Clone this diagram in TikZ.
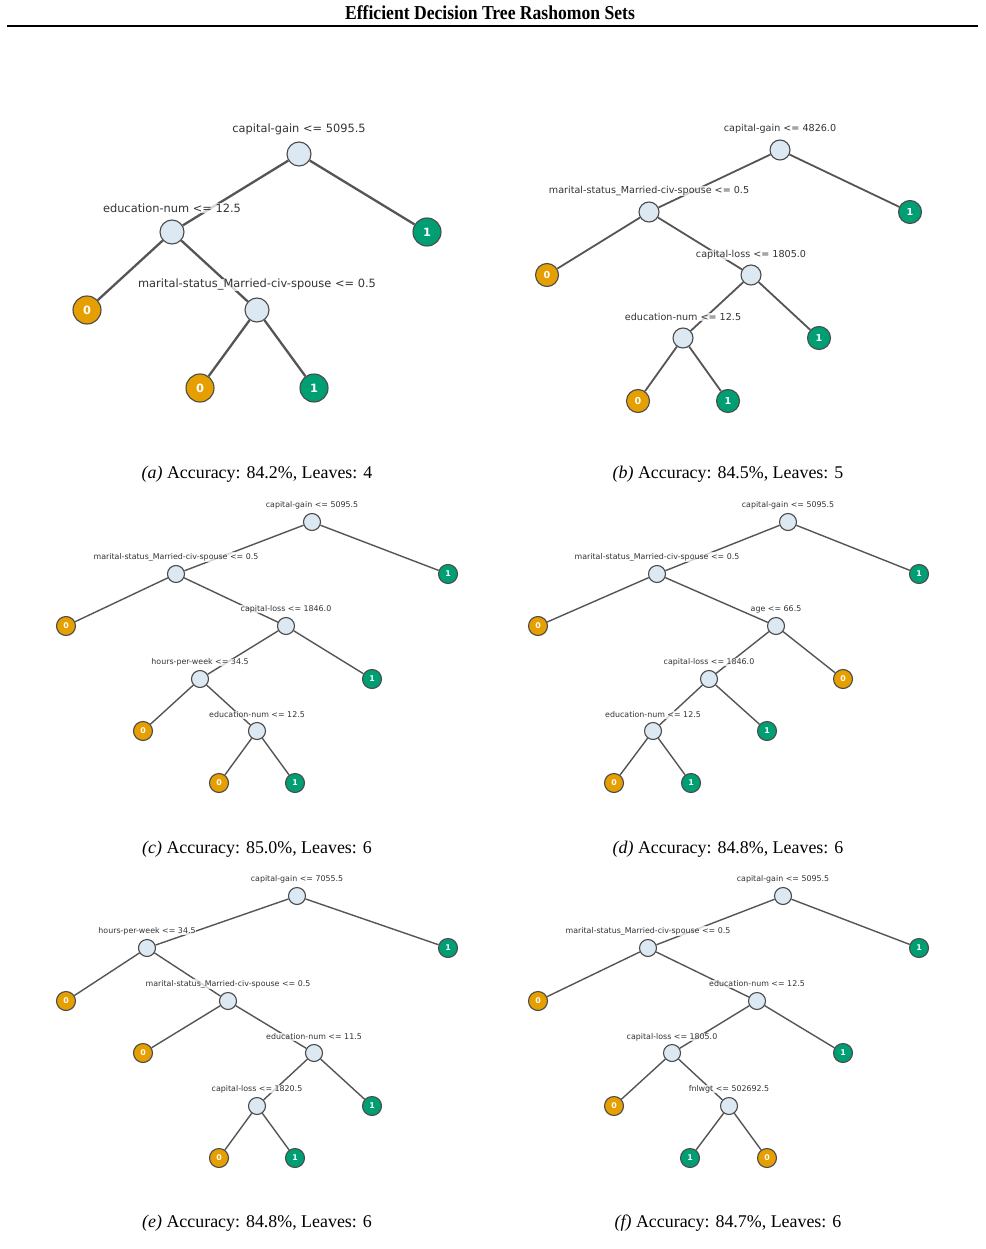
\documentclass[tikz,border=0pt]{standalone}
\usepackage{fontspec}
\setmainfont{Liberation Serif}
\newfontfamily\tf{DejaVu Sans}
\usetikzlibrary{backgrounds}
\pgfdeclarelayer{bottom}
\pgfsetlayers{bottom,background,main}
\definecolor{intc}{HTML}{DCE8F2}
\definecolor{orc}{HTML}{E69F00}
\definecolor{grc}{HTML}{009E73}
\definecolor{bordc}{HTML}{4A4A4A}
\definecolor{edgec}{HTML}{555555}
\definecolor{txtc}{HTML}{333333}
\tikzset{
  x=1pt, y=-1pt,
  inode/.style={circle, draw=bordc, fill=intc, minimum size=#1, inner sep=0pt, line width=1.1pt},
  zleaf/.style={circle, draw=bordc, fill=orc, minimum size=#1, inner sep=0pt, line width=1.1pt, text=white},
  oleaf/.style={circle, draw=bordc, fill=grc, minimum size=#1, inner sep=0pt, line width=1.1pt, text=white},
  lbl/.style={fill=white, fill opacity=0.75, text opacity=1, text=txtc, inner sep=0.6pt, yshift=-1pt},
  conn/.style={draw=edgec, line width=#1},
  subcap/.style={font=\fontsize{17.9}{20}\selectfont, inner sep=0pt, yshift=-2pt},
}
\begin{document}
\begin{tikzpicture}
\begin{pgfonlayer}{bottom}
\fill[white] (0,0) rectangle (985,1249);
\end{pgfonlayer}
\useasboundingbox (0,0) rectangle (985,1249);
% title
\node[font=\fontsize{17.6}{20}\selectfont\bfseries, inner sep=0pt, yscale=1.12] (title) at (490,13) {Efficient Decision Tree Rashomon Sets};
\coordinate (rl) at (7,26);
\coordinate (rr) at (978,26);
\draw[line width=1.8pt] (rl) -- (rr);

% ===== Tree (a)
\begin{scope}[every node/.append style={font=\tf\fontsize{11.4}{13}\selectfont}]
\node[inode=24] (a1) at (299,154) {};
\node[inode=24] (a2) at (172,232) {};
\node[oleaf=28, font=\tf\bfseries\fontsize{11.4}{13}\selectfont] (a3) at (427,232) {1};
\node[zleaf=28, font=\tf\bfseries\fontsize{11.4}{13}\selectfont] (a4) at (87,310) {0};
\node[inode=24] (a5) at (257,310) {};
\node[zleaf=28, font=\tf\bfseries\fontsize{11.4}{13}\selectfont] (a6) at (200,388) {0};
\node[oleaf=28, font=\tf\bfseries\fontsize{11.4}{13}\selectfont] (a7) at (314,388) {1};
\begin{pgfonlayer}{background}
\draw[conn=2.3pt] (a1) -- (a2); \draw[conn=2.3pt] (a1) -- (a3);
\draw[conn=2.3pt] (a2) -- (a4); \draw[conn=2.3pt] (a2) -- (a5);
\draw[conn=2.3pt] (a5) -- (a6); \draw[conn=2.3pt] (a5) -- (a7);
\end{pgfonlayer}
\node[lbl] (a1l) at (299,128) {capital-gain <= 5095.5};
\node[lbl] (a2l) at (172,207) {education-num <= 12.5};
\node[lbl] (a5l) at (257,284) {marital-status\_Married-civ-spouse <= 0.5};
\end{scope}
\node[subcap] (capa) at (257,472) {\textit{(a)} Accuracy: 84.2\%, Leaves: 4};

% ===== Tree (b)
\begin{scope}[every node/.append style={font=\tf\fontsize{9.6}{11}\selectfont}]
\node[inode=20] (b1) at (780,150) {};
\node[inode=20] (b2) at (649,212) {};
\node[oleaf=23, font=\tf\bfseries\fontsize{9.6}{11}\selectfont] (b3) at (910,212) {1};
\node[zleaf=23, font=\tf\bfseries\fontsize{9.6}{11}\selectfont] (b4) at (547,275) {0};
\node[inode=20] (b5) at (751,275) {};
\node[inode=20] (b6) at (683,338) {};
\node[oleaf=23, font=\tf\bfseries\fontsize{9.6}{11}\selectfont] (b7) at (819,338) {1};
\node[zleaf=23, font=\tf\bfseries\fontsize{9.6}{11}\selectfont] (b8) at (638,401) {0};
\node[oleaf=23, font=\tf\bfseries\fontsize{9.6}{11}\selectfont] (b9) at (728,401) {1};
\begin{pgfonlayer}{background}
\draw[conn=1.8pt] (b1) -- (b2); \draw[conn=1.8pt] (b1) -- (b3);
\draw[conn=1.8pt] (b2) -- (b4); \draw[conn=1.8pt] (b2) -- (b5);
\draw[conn=1.8pt] (b5) -- (b6); \draw[conn=1.8pt] (b5) -- (b7);
\draw[conn=1.8pt] (b6) -- (b8); \draw[conn=1.8pt] (b6) -- (b9);
\end{pgfonlayer}
\node[lbl] (b1l) at (780,128) {capital-gain <= 4826.0};
\node[lbl] (b2l) at (649,190) {marital-status\_Married-civ-spouse <= 0.5};
\node[lbl] (b5l) at (751,254) {capital-loss <= 1805.0};
\node[lbl] (b6l) at (683,316) {education-num <= 12.5};
\end{scope}
\node[subcap] (capb) at (728,472) {\textit{(b)} Accuracy: 84.5\%, Leaves: 5};

% ===== Tree (c)
\begin{scope}[every node/.append style={font=\tf\fontsize{7.9}{9}\selectfont}]
\node[inode=17] (c1) at (312,522) {};
\node[inode=17] (c2) at (176,574) {};
\node[oleaf=19, font=\tf\bfseries\fontsize{7.9}{9}\selectfont] (c3) at (448,574) {1};
\node[zleaf=19, font=\tf\bfseries\fontsize{7.9}{9}\selectfont] (c4) at (66,626) {0};
\node[inode=17] (c5) at (286,626) {};
\node[inode=17] (c6) at (200,679) {};
\node[oleaf=19, font=\tf\bfseries\fontsize{7.9}{9}\selectfont] (c7) at (372,679) {1};
\node[zleaf=19, font=\tf\bfseries\fontsize{7.9}{9}\selectfont] (c8) at (143,731) {0};
\node[inode=17] (c9) at (257,731) {};
\node[zleaf=19, font=\tf\bfseries\fontsize{7.9}{9}\selectfont] (c10) at (219,783) {0};
\node[oleaf=19, font=\tf\bfseries\fontsize{7.9}{9}\selectfont] (c11) at (295,783) {1};
\begin{pgfonlayer}{background}
\draw[conn=1.4pt] (c1) -- (c2); \draw[conn=1.4pt] (c1) -- (c3);
\draw[conn=1.4pt] (c2) -- (c4); \draw[conn=1.4pt] (c2) -- (c5);
\draw[conn=1.4pt] (c5) -- (c6); \draw[conn=1.4pt] (c5) -- (c7);
\draw[conn=1.4pt] (c6) -- (c8); \draw[conn=1.4pt] (c6) -- (c9);
\draw[conn=1.4pt] (c9) -- (c10); \draw[conn=1.4pt] (c9) -- (c11);
\end{pgfonlayer}
\node[lbl] (c1l) at (312,504) {capital-gain <= 5095.5};
\node[lbl] (c2l) at (176,556) {marital-status\_Married-civ-spouse <= 0.5};
\node[lbl] (c5l) at (286,608) {capital-loss <= 1846.0};
\node[lbl] (c6l) at (200,661) {hours-per-week <= 34.5};
\node[lbl] (c9l) at (257,714) {education-num <= 12.5};
\end{scope}
\node[subcap] (capc) at (257,847) {\textit{(c)} Accuracy: 85.0\%, Leaves: 6};

% ===== Tree (d)
\begin{scope}[every node/.append style={font=\tf\fontsize{7.9}{9}\selectfont}]
\node[inode=17] (d1) at (788,522) {};
\node[inode=17] (d2) at (657,574) {};
\node[oleaf=19, font=\tf\bfseries\fontsize{7.9}{9}\selectfont] (d3) at (919,574) {1};
\node[zleaf=19, font=\tf\bfseries\fontsize{7.9}{9}\selectfont] (d4) at (538,626) {0};
\node[inode=17] (d5) at (776,626) {};
\node[inode=17] (d6) at (709,679) {};
\node[zleaf=19, font=\tf\bfseries\fontsize{7.9}{9}\selectfont] (d7) at (843,679) {0};
\node[inode=17] (d8) at (653,731) {};
\node[oleaf=19, font=\tf\bfseries\fontsize{7.9}{9}\selectfont] (d9) at (767,731) {1};
\node[zleaf=19, font=\tf\bfseries\fontsize{7.9}{9}\selectfont] (d10) at (614,783) {0};
\node[oleaf=19, font=\tf\bfseries\fontsize{7.9}{9}\selectfont] (d11) at (691,783) {1};
\begin{pgfonlayer}{background}
\draw[conn=1.4pt] (d1) -- (d2); \draw[conn=1.4pt] (d1) -- (d3);
\draw[conn=1.4pt] (d2) -- (d4); \draw[conn=1.4pt] (d2) -- (d5);
\draw[conn=1.4pt] (d5) -- (d6); \draw[conn=1.4pt] (d5) -- (d7);
\draw[conn=1.4pt] (d6) -- (d8); \draw[conn=1.4pt] (d6) -- (d9);
\draw[conn=1.4pt] (d8) -- (d10); \draw[conn=1.4pt] (d8) -- (d11);
\end{pgfonlayer}
\node[lbl] (d1l) at (788,504) {capital-gain <= 5095.5};
\node[lbl] (d2l) at (657,556) {marital-status\_Married-civ-spouse <= 0.5};
\node[lbl] (d5l) at (776,608) {age <= 66.5};
\node[lbl] (d6l) at (709,661) {capital-loss <= 1846.0};
\node[lbl] (d8l) at (653,714) {education-num <= 12.5};
\end{scope}
\node[subcap] (capd) at (728,847) {\textit{(d)} Accuracy: 84.8\%, Leaves: 6};

% ===== Tree (e)
\begin{scope}[every node/.append style={font=\tf\fontsize{7.9}{9}\selectfont}]
\node[inode=17] (e1) at (297,896) {};
\node[inode=17] (e2) at (147,948) {};
\node[oleaf=19, font=\tf\bfseries\fontsize{7.9}{9}\selectfont] (e3) at (448,948) {1};
\node[zleaf=19, font=\tf\bfseries\fontsize{7.9}{9}\selectfont] (e4) at (66,1001) {0};
\node[inode=17] (e5) at (228,1001) {};
\node[zleaf=19, font=\tf\bfseries\fontsize{7.9}{9}\selectfont] (e6) at (143,1053) {0};
\node[inode=17] (e7) at (314,1053) {};
\node[inode=17] (e8) at (257,1106) {};
\node[oleaf=19, font=\tf\bfseries\fontsize{7.9}{9}\selectfont] (e9) at (372,1106) {1};
\node[zleaf=19, font=\tf\bfseries\fontsize{7.9}{9}\selectfont] (e10) at (219,1158) {0};
\node[oleaf=19, font=\tf\bfseries\fontsize{7.9}{9}\selectfont] (e11) at (295,1158) {1};
\begin{pgfonlayer}{background}
\draw[conn=1.4pt] (e1) -- (e2); \draw[conn=1.4pt] (e1) -- (e3);
\draw[conn=1.4pt] (e2) -- (e4); \draw[conn=1.4pt] (e2) -- (e5);
\draw[conn=1.4pt] (e5) -- (e6); \draw[conn=1.4pt] (e5) -- (e7);
\draw[conn=1.4pt] (e7) -- (e8); \draw[conn=1.4pt] (e7) -- (e9);
\draw[conn=1.4pt] (e8) -- (e10); \draw[conn=1.4pt] (e8) -- (e11);
\end{pgfonlayer}
\node[lbl] (e1l) at (297,878) {capital-gain <= 7055.5};
\node[lbl] (e2l) at (147,930) {hours-per-week <= 34.5};
\node[lbl] (e5l) at (228,983) {marital-status\_Married-civ-spouse <= 0.5};
\node[lbl] (e7l) at (314,1036) {education-num <= 11.5};
\node[lbl] (e8l) at (257,1088) {capital-loss <= 1820.5};
\end{scope}
\node[subcap] (cape) at (257,1221) {\textit{(e)} Accuracy: 84.8\%, Leaves: 6};

% ===== Tree (f)
\begin{scope}[every node/.append style={font=\tf\fontsize{7.9}{9}\selectfont}]
\node[inode=17] (f1) at (783,896) {};
\node[inode=17] (f2) at (648,948) {};
\node[oleaf=19, font=\tf\bfseries\fontsize{7.9}{9}\selectfont] (f3) at (919,948) {1};
\node[zleaf=19, font=\tf\bfseries\fontsize{7.9}{9}\selectfont] (f4) at (538,1001) {0};
\node[inode=17] (f5) at (757,1001) {};
\node[inode=17] (f6) at (672,1053) {};
\node[oleaf=19, font=\tf\bfseries\fontsize{7.9}{9}\selectfont] (f7) at (843,1053) {1};
\node[zleaf=19, font=\tf\bfseries\fontsize{7.9}{9}\selectfont] (f8) at (614,1106) {0};
\node[inode=17] (f9) at (729,1106) {};
\node[oleaf=19, font=\tf\bfseries\fontsize{7.9}{9}\selectfont] (f10) at (690,1158) {1};
\node[zleaf=19, font=\tf\bfseries\fontsize{7.9}{9}\selectfont] (f11) at (767,1158) {0};
\begin{pgfonlayer}{background}
\draw[conn=1.4pt] (f1) -- (f2); \draw[conn=1.4pt] (f1) -- (f3);
\draw[conn=1.4pt] (f2) -- (f4); \draw[conn=1.4pt] (f2) -- (f5);
\draw[conn=1.4pt] (f5) -- (f6); \draw[conn=1.4pt] (f5) -- (f7);
\draw[conn=1.4pt] (f6) -- (f8); \draw[conn=1.4pt] (f6) -- (f9);
\draw[conn=1.4pt] (f9) -- (f10); \draw[conn=1.4pt] (f9) -- (f11);
\end{pgfonlayer}
\node[lbl] (f1l) at (783,878) {capital-gain <= 5095.5};
\node[lbl] (f2l) at (648,930) {marital-status\_Married-civ-spouse <= 0.5};
\node[lbl] (f5l) at (757,983) {education-num <= 12.5};
\node[lbl] (f6l) at (672,1036) {capital-loss <= 1805.0};
\node[lbl] (f9l) at (729,1088) {fnlwgt <= 502692.5};
\end{scope}
\node[subcap] (capf) at (728,1221) {\textit{(f)} Accuracy: 84.7\%, Leaves: 6};
\end{tikzpicture}
\end{document}
